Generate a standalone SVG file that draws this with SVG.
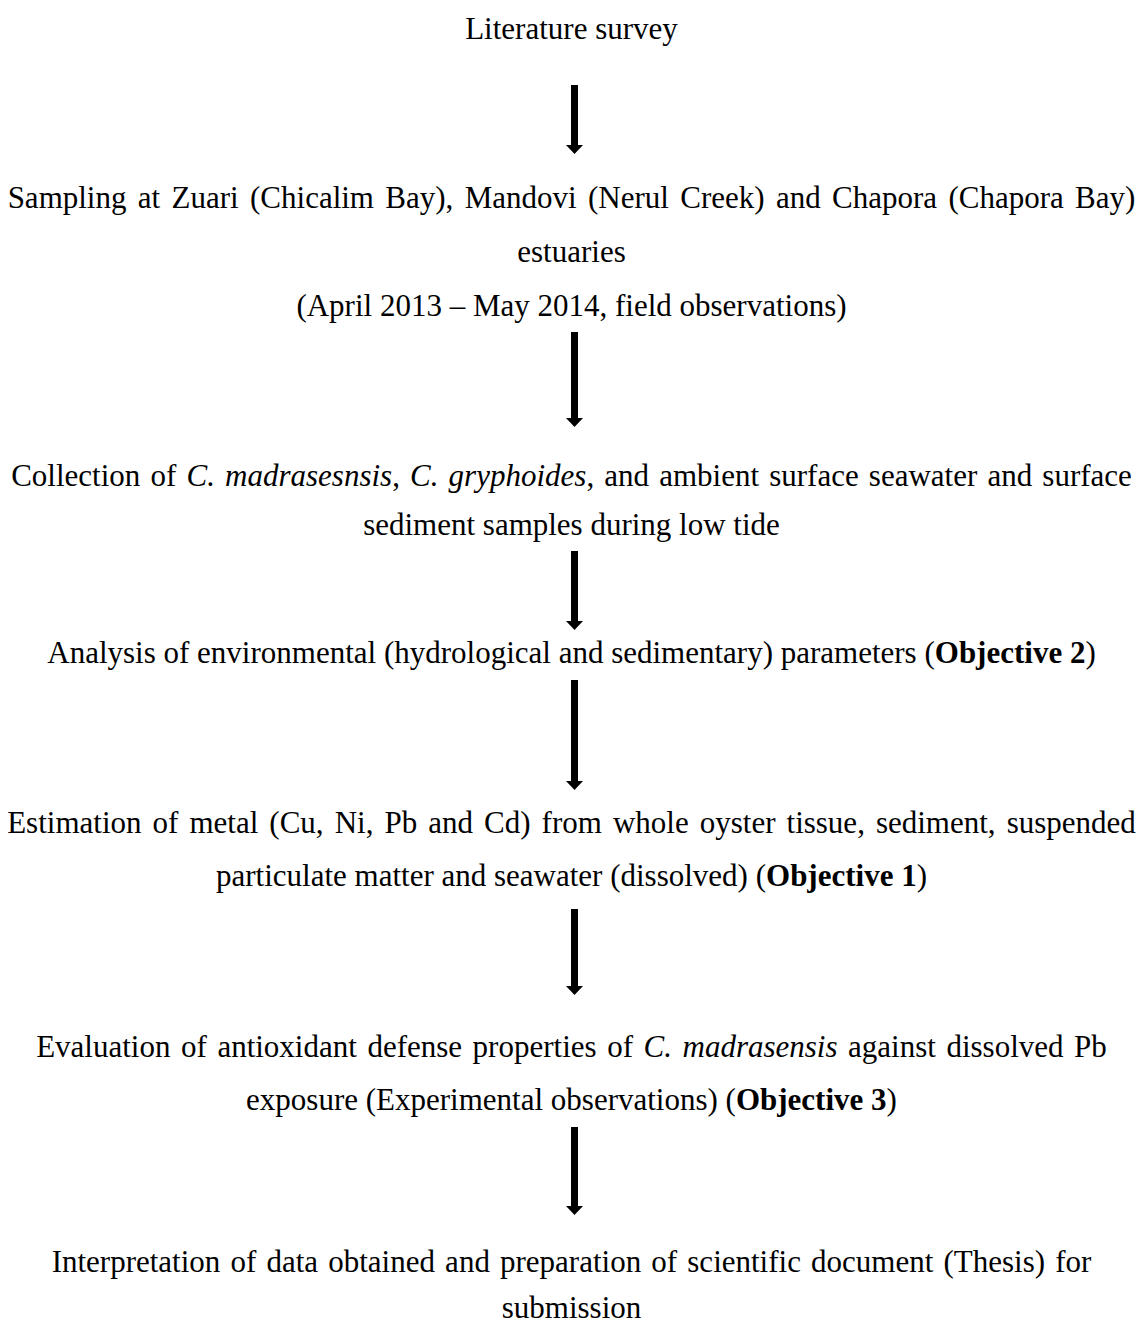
<svg xmlns="http://www.w3.org/2000/svg" width="1143" height="1328" viewBox="0 0 1143 1328">
<style>
text{font-family:"Liberation Serif","Times New Roman",serif;font-size:31px;fill:#000;text-anchor:middle}
.i{font-style:italic}
.b{font-weight:bold}
.arr{fill:#000}
</style>
<defs>
<path id="head" d="M-8.5,0 L8.5,0 L0,9 Z"/>
</defs>
<rect width="1143" height="1328" fill="#fff"/>
<g id="n1"><text x="571.5" y="39">Literature survey</text></g>
<g id="n2">
<text x="571.5" y="208" word-spacing="3.6">Sampling at Zuari (Chicalim Bay), Mandovi (Nerul Creek) and Chapora (Chapora Bay)</text>
<text x="571.5" y="262">estuaries</text>
<text x="571.5" y="316">(April 2013 – May 2014, field observations)</text>
</g>
<g id="n3">
<text x="571.5" y="486" word-spacing="2.4">Collection of <tspan class="i">C. madrasesnsis</tspan>, <tspan class="i">C. gryphoides</tspan>, and ambient surface seawater and surface</text>
<text x="571.5" y="535">sediment samples during low tide</text>
</g>
<g id="n4"><text x="571.5" y="663">Analysis of environmental (hydrological and sedimentary) parameters (<tspan class="b">Objective 2</tspan>)</text></g>
<g id="n5">
<text x="571.5" y="833" word-spacing="3.3">Estimation of metal (Cu, Ni, Pb and Cd) from whole oyster tissue, sediment, suspended</text>
<text x="571.5" y="886">particulate matter and seawater (dissolved) (<tspan class="b">Objective 1</tspan>)</text>
</g>
<g id="n6">
<text x="571.5" y="1057" word-spacing="2.8">Evaluation of antioxidant defense properties of <tspan class="i">C. madrasensis</tspan> against dissolved Pb</text>
<text x="571.5" y="1110">exposure (Experimental observations) (<tspan class="b">Objective 3</tspan>)</text>
</g>
<g id="n7">
<text x="571.5" y="1272" word-spacing="2.4">Interpretation of data obtained and preparation of scientific document (Thesis) for</text>
<text x="571.5" y="1318">submission</text>
</g>
<g id="connectors" class="arr">
<rect x="571" y="85" width="7" height="61"/><use href="#head" x="574.5" y="145"/>
<rect x="571" y="332" width="7" height="87"/><use href="#head" x="574.5" y="418"/>
<rect x="571" y="551" width="7" height="71"/><use href="#head" x="574.5" y="621"/>
<rect x="571" y="680" width="7" height="102"/><use href="#head" x="574.5" y="781"/>
<rect x="571" y="909" width="7" height="79"/><use href="#head" x="574.5" y="986"/>
<rect x="571" y="1127" width="7" height="80"/><use href="#head" x="574.5" y="1206"/>
</g>
</svg>
